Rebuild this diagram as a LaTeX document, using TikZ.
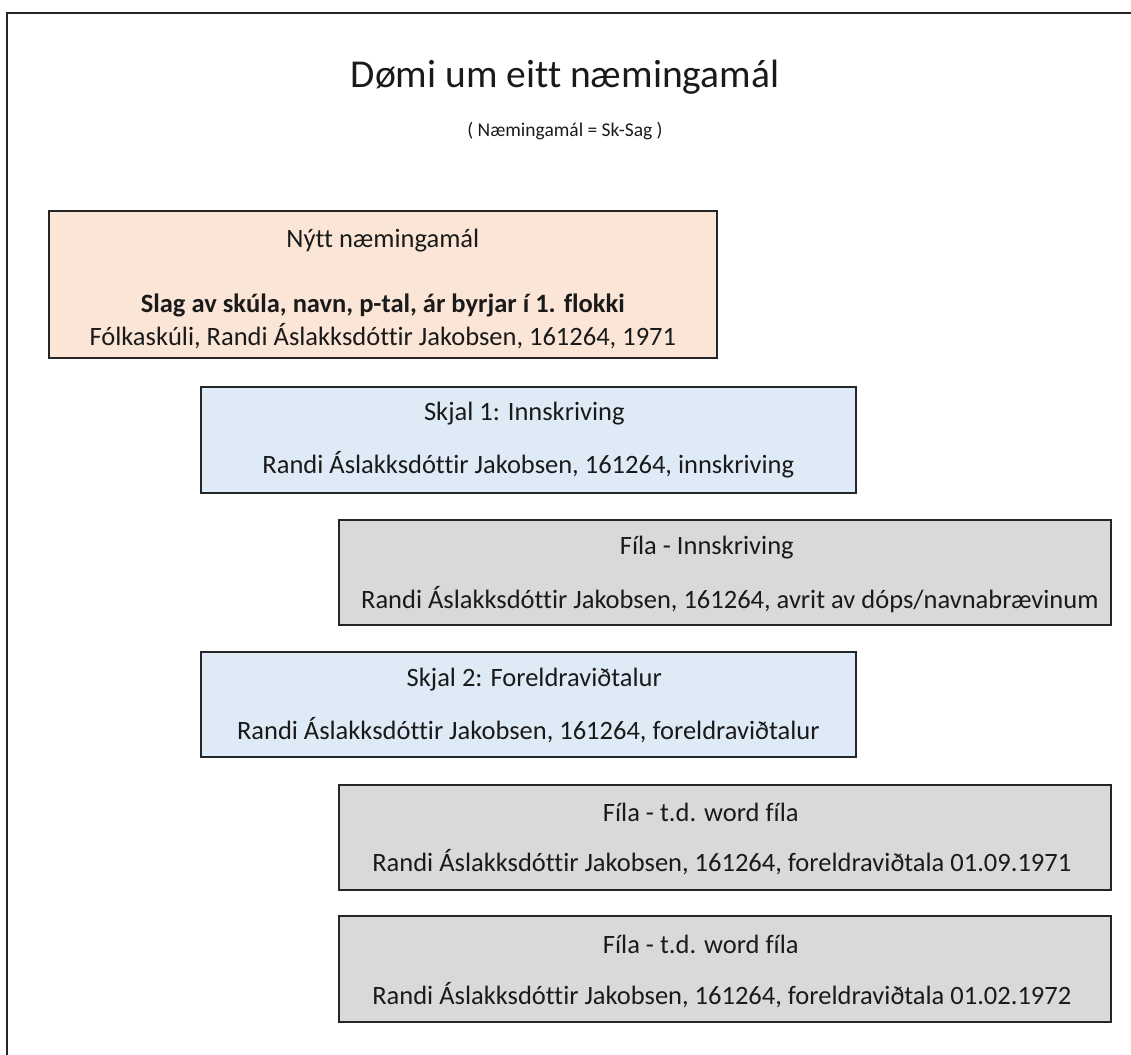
\documentclass[tikz,border=0pt]{standalone}
\usepackage{fontspec}
\setmainfont{Carlito}[Ligatures=NoCommon]
\definecolor{peach}{HTML}{FBE5D6}
\definecolor{lblue}{HTML}{DEEBF7}
\definecolor{lgray}{HTML}{D9D9D9}
\definecolor{edge}{HTML}{262626}
\definecolor{ink}{HTML}{1A1A1A}
\tikzset{
  box/.style={draw=edge, line width=1.6pt, rectangle, anchor=north west, inner sep=0pt},
  txt/.style={text=ink, font=\fontsize{26.5}{31}\selectfont, inner sep=0pt, anchor=center},
}
\begin{document}
\begin{tikzpicture}[x=1pt,y=-1pt]
\useasboundingbox (0,0) rectangle (1131,1054);
\draw[edge, line width=2pt] (7,1060) -- (7,13) -- (1140,13);
% title
\node[txt, font=\fontsize{39.5}{48}\selectfont] (title) at (565,77) {Dømi um eitt næmingamál};
\node[txt, font=\fontsize{19.5}{24}\selectfont] (sub) at (565,131) {( Næmingamál = Sk-Sag )};
% box 1
\node[box, fill=peach, minimum width=668pt, minimum height=147pt] (b1) at (48,210) {};
\node[txt] (b1a) at ([yshift=-31pt]b1.north) {Nýtt næmingamál};
\node[txt, font=\fontsize{26.5}{31}\selectfont\bfseries] (b1b) at ([yshift=-95pt]b1.north) {Slag av skúla, navn, p-tal, ár byrjar í 1. flokki};
\node[txt] (b1c) at ([yshift=-126pt]b1.north) {Fólkaskúli, Randi Áslakksdóttir Jakobsen, 161264, 1971};
% box 2
\node[box, fill=lblue, minimum width=655pt, minimum height=106pt] (b2) at (200,386) {};
\node[txt] (b2a) at ([yshift=-28pt,xshift=-4pt]b2.north) {Skjal 1: Innskriving};
\node[txt] (b2b) at ([yshift=-79pt]b2.north) {Randi Áslakksdóttir Jakobsen, 161264, innskriving};
% box 3
\node[box, fill=lgray, minimum width=772pt, minimum height=105pt] (b3) at (338,519) {};
\node[txt] (b3a) at ([yshift=-29pt,xshift=-18pt]b3.north) {Fíla - Innskriving};
\node[txt] (b3b) at ([yshift=-81pt,xshift=5pt]b3.north) {Randi Áslakksdóttir Jakobsen, 161264, avrit av dóps/navnabrævinum};
% box 4
\node[box, fill=lblue, minimum width=655pt, minimum height=105pt] (b4) at (200,651) {};
\node[txt] (b4a) at ([yshift=-29pt,xshift=6pt]b4.north) {Skjal 2: Foreldraviðtalur};
\node[txt] (b4b) at ([yshift=-79pt]b4.north) {Randi Áslakksdóttir Jakobsen, 161264, foreldraviðtalur};
% box 5
\node[box, fill=lgray, minimum width=772pt, minimum height=105pt] (b5) at (338,784) {};
\node[txt] (b5a) at ([yshift=-28pt,xshift=-24pt]b5.north) {Fíla - t.d. word fíla};
\node[txt] (b5b) at ([yshift=-78pt,xshift=-3pt]b5.north) {Randi Áslakksdóttir Jakobsen, 161264, foreldraviðtala 01.09.1971};
% box 6
\node[box, fill=lgray, minimum width=772pt, minimum height=106pt] (b6) at (338,915) {};
\node[txt] (b6a) at ([yshift=-29pt,xshift=-24pt]b6.north) {Fíla - t.d. word fíla};
\node[txt] (b6b) at ([yshift=-80pt,xshift=-3pt]b6.north) {Randi Áslakksdóttir Jakobsen, 161264, foreldraviðtala 01.02.1972};
\end{tikzpicture}
\end{document}
